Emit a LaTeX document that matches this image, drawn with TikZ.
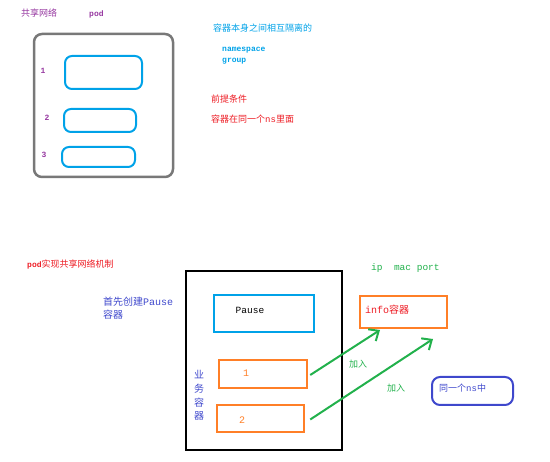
\documentclass[tikz,border=0pt]{standalone}
\usepackage{fontspec}
\usepackage{xcolor}
\setmainfont{Noto Sans CJK SC}
\setmonofont{Liberation Mono}
\usepackage{tikz}
\usetikzlibrary{arrows.meta}

\definecolor{podpurple}{RGB}{150,55,160}
\definecolor{skyblue}{RGB}{0,162,232}
\definecolor{paintorange}{RGB}{255,127,39}
\definecolor{paintgreen}{RGB}{34,177,76}
\definecolor{paintred}{RGB}{237,28,36}
\definecolor{indigo}{RGB}{63,72,204}
\definecolor{paintgrey}{RGB}{120,120,120}

\newcommand{\lat}[1]{{\ttfamily #1}}

\tikzset{
  txt/.style={inner sep=0pt,anchor=west,font=\fontsize{9}{11}\selectfont},
  ctbox/.style={draw=skyblue,line width=2pt,rounded corners=7pt,inner sep=0pt},
  bizbox/.style={draw=paintorange,line width=2.5pt,inner sep=0pt},
  joinarrow/.style={draw=paintgreen,line width=2pt,-{Straight Barb[length=8pt,width=14pt]}}
}

\begin{document}
\begin{tikzpicture}[x=1pt,y=-1pt]
	\useasboundingbox (0,0) rectangle (550,462);
	% shared network
	\node[txt,text=podpurple] (share) at (21,13) {共享网络};
	\node[txt,text=podpurple] (podword) at (89,14) {\lat{\fontsize{8}{10}\selectfont\bfseries pod}};
	\node[draw=paintgrey,line width=2.5pt,rounded corners=8pt,minimum width=139pt,minimum height=143pt] (podbox) at (103.5,105.5) {};
	\node[ctbox,minimum width=77pt,minimum height=33pt] (c1) at (103.5,72.5) {};
	\node[ctbox,minimum width=72pt,minimum height=23pt] (c2) at (100,120.5) {};
	\node[ctbox,minimum width=73pt,minimum height=20pt] (c3) at (98.5,157) {};
	\foreach \n/\x/\y in {1/43/71,2/47/118,3/44/155}
	  \node[txt,anchor=center,text=podpurple,font=\ttfamily\bfseries\fontsize{8}{10}\selectfont] (num\n) at (\x,\y) {\n};
	\node[txt,text=skyblue] (isolated) at (213,28) {容器本身之间相互隔离的};
	\node[txt,text=skyblue,font=\ttfamily\bfseries\fontsize{8}{10}\selectfont] (nsword) at (222,50) {namespace};
	\node[txt,text=skyblue,font=\ttfamily\bfseries\fontsize{8}{10}\selectfont] (groupword) at (222,61) {group};
	\node[txt,text=paintred] (premise) at (211,99) {前提条件};
	\node[txt,text=paintred] (samens) at (211,119) {容器在同一个\lat{ns}里面};
	% pod mechanism
	\node[txt,text=paintred] (mech) at (27,264) {\lat{\fontsize{8}{10}\selectfont\bfseries pod}实现共享网络机制};
	\node[draw=black,line width=2pt,minimum width=156pt,minimum height=179pt] (podbody) at (264,360.5) {};
	\node[txt,text=indigo,font=\fontsize{10}{12}\selectfont] (first) at (103,302) {首先创建\lat{Pause}};
	\node[txt,text=indigo,font=\fontsize{10}{12}\selectfont] (firstb) at (103,315) {容器};
	\node[draw=skyblue,line width=2pt,inner sep=0pt,minimum width=100pt,minimum height=37pt] (pausebox) at (264,313.5) {};
	\node[txt,anchor=center,font=\ttfamily\fontsize{9.5}{11}\selectfont] (pauseword) at (250,310) {Pause};
	\node[bizbox,minimum width=88pt,minimum height=28pt] (biz1) at (263,374) {};
	\node[bizbox,minimum width=87pt,minimum height=27pt] (biz2) at (260.5,418.5) {};
	\node[txt,anchor=center,text=paintorange,font=\ttfamily\fontsize{10}{12}\selectfont] (bizone) at (246,373) {1};
	\node[txt,anchor=center,text=paintorange,font=\ttfamily\fontsize{10}{12}\selectfont] (biztwo) at (242,420) {2};
	\node[txt,anchor=center,text=indigo,align=center,font=\fontsize{10}{13.7}\selectfont] (business) at (199,395.5) {业\\务\\容\\器};
	% info container
	\node[txt,text=paintgreen,font=\ttfamily\fontsize{9.5}{11}\selectfont] (ipmac) at (371,268) {ip\ \ mac port};
	\node[draw=paintorange,line width=2.5pt,inner sep=0pt,minimum width=87pt,minimum height=32pt] (infobox) at (403.5,312) {};
	\node[txt,text=paintred,font=\fontsize{10}{12}\selectfont] (infoword) at (365,310) {\lat{info}容器};
	\coordinate (tip1) at (380,330);
	\coordinate (tip2) at (433,339);
	\draw[joinarrow] ([shift={(2,1)}]biz1.east) -- (tip1);
	\draw[joinarrow] ([shift={(5,1)}]biz2.east) -- (tip2);
	\node[txt,anchor=center,text=paintgreen] (joina) at (358,364) {加入};
	\node[txt,anchor=center,text=paintgreen] (joinb) at (396,388) {加入};
	\node[draw=indigo,line width=2pt,rounded corners=8pt,inner sep=0pt,minimum width=81pt,minimum height=28pt] (nsbox) at (472.5,391) {};
	\node[txt,text=indigo] (samensb) at (439,388) {同一个\lat{ns}中};
\end{tikzpicture}
\end{document}
